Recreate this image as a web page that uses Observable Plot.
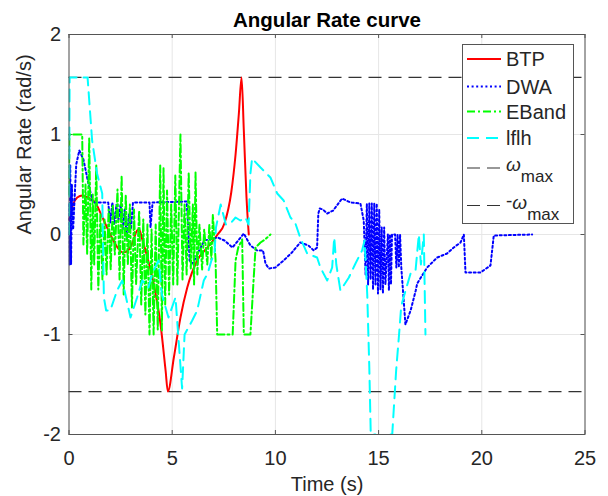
<!DOCTYPE html>
<html>
<head>
<meta charset="utf-8">
<script src="https://cdn.jsdelivr.net/npm/d3@7"></script>
<script src="https://cdn.jsdelivr.net/npm/@observablehq/plot@0.6"></script>
<style>
  html, body { margin: 0; padding: 0; background: #fff; }
  #chart { width: 608px; height: 496px; }
</style>
</head>
<body>
<div id="chart"></div>
<script>
// ---------- data ----------
const titleText = "Angular Rate curve";
const xLabel = "Time (s)";
const yLabel = "Angular Rate (rad/s)";
const xTicks = [0, 5, 10, 15, 20, 25];
const yTicks = [-2, -1, 0, 1, 2];
const omegaMax = 1.5708;
const limits = [omegaMax, -omegaMax];

const btp = [[0,0.15],[0.2,0.3],[0.4,0.37],[0.65,0.39],[0.9,0.37],[1.3,0.31],[1.6,0.18],[2.0,0.0],[2.35,-0.13],[2.6,-0.18],[2.8,-0.17],[3.06,-0.09],[3.3,0.04],[3.4,0.05],[3.55,-0.05],[3.8,-0.23],[4.1,-0.49],[4.43,-0.89],[4.68,-1.36],[4.79,-1.5708],[5.08,-1.23],[5.4,-0.83],[5.73,-0.53],[6.21,-0.26],[6.7,-0.13],[7.2,0.0],[7.53,0.11],[7.86,0.42],[8.07,0.8],[8.23,1.21],[8.36,1.5708],[8.47,1.04],[8.6,0.37],[8.71,0.0]];

const dwa = [[0,0.3],[0.03,-0.3],[0.06,0.7],[0.1,-0.3],[0.14,0.5],[0.2,0.05],[0.35,0.7],[0.5,0.84],[0.7,0.75],[0.9,0.55],[1.15,0.32],[1.9,0.32],[2.0,0.12],[2.1,0.32],[2.2,0.1],[2.3,0.3],[2.4,0.15],[2.5,0.3],[2.6,0.05],[2.7,0.25],[2.8,-0.05],[2.9,0.2],[3.0,0.05],[3.1,0.32],[3.9,0.32],[3.95,0.07],[4.05,0.32],[5.7,0.33],[5.78,0.05],[5.84,-0.26],[6.0,-0.29],[6.23,-0.19],[6.56,-0.06],[7.2,-0.03],[7.53,-0.06],[7.92,-0.13],[8.2,-0.06],[8.47,0.01],[8.79,-0.11],[9.12,-0.16],[9.4,-0.16],[9.52,-0.29],[9.68,-0.34],[10.0,-0.33],[10.4,-0.26],[10.8,-0.18],[11.2,-0.08],[11.6,-0.11],[11.86,-0.16],[12.02,-0.13],[12.08,0.21],[12.15,0.26],[12.3,0.25],[12.51,0.21],[12.8,0.24],[13.23,0.36],[13.64,0.32],[14.12,0.31],[14.28,0.14],[14.37,-0.4],[14.43,0.31],[14.49,-0.5],[14.55,0.31],[14.61,-0.45],[14.67,0.31],[14.73,-0.55],[14.79,0.31],[14.85,-0.5],[14.91,0.31],[14.97,-0.59],[15.03,0.25],[15.09,-0.55],[15.15,0.07],[15.21,-0.59],[15.27,0.07],[15.33,-0.5],[15.45,0.0],[15.5,-0.56],[15.55,0.0],[15.6,-0.5],[15.65,0.0],[15.8,0.0],[15.86,-0.33],[15.92,0.0],[15.98,-0.33],[16.04,0.0],[16.1,-0.33],[16.16,-0.5],[16.3,-0.9],[16.55,-0.76],[16.8,-0.56],[16.87,-0.49],[17.35,-0.33],[17.84,-0.23],[18.32,-0.19],[18.64,-0.13],[18.97,-0.08],[19.13,0.0],[19.21,-0.38],[19.94,-0.38],[20.42,-0.31],[20.58,-0.01],[22.44,0.0]];

const eband = [[0,0.4],[0.02,1.0],[0.64,1.0],[0.7,-0.1],[0.8,0.5],[0.88,-0.2],[0.98,0.97],[1.08,-0.55],[1.15,0.4],[1.22,-0.3],[1.32,0.7],[1.42,-0.55],[1.52,0.2],[1.62,-0.45],[1.72,0.15],[1.82,-0.4],[1.92,0.25],[2.02,-0.35],[2.12,0.3],[2.22,-0.2],[2.35,0.45],[2.45,-0.45],[2.55,0.59],[2.65,-0.6],[2.75,0.4],[2.85,-0.3],[2.95,0.3],[3.05,-0.73],[3.15,0.25],[3.25,-0.5],[3.4,0.24],[3.5,-0.7],[3.6,0.15],[3.7,-0.8],[3.8,0.1],[3.9,-1.0],[4.0,0.05],[4.1,-1.0],[4.2,0.1],[4.3,-0.95],[4.42,0.69],[4.5,-0.96],[4.58,0.67],[4.66,-0.7],[4.75,0.44],[4.85,-0.6],[4.95,0.3],[5.05,-0.5],[5.15,0.59],[5.25,-0.5],[5.4,1.0],[5.5,-0.45],[5.6,0.3],[5.7,-0.4],[5.8,0.62],[5.9,-0.35],[6.0,0.3],[6.06,-0.5],[6.13,0.62],[6.22,-0.4],[6.32,0.1],[6.45,-0.35],[6.55,0.05],[6.7,-0.3],[6.8,0.1],[6.9,-0.25],[6.97,0.2],[7.1,-0.25],[7.18,-1.0],[7.93,-1.0],[8.07,-0.26],[8.2,-0.13],[8.39,-0.05],[8.47,-1.0],[8.79,-1.0],[8.95,-0.43],[9.04,-0.13],[9.28,-0.08],[9.5,-0.05],[9.76,0.0]];

const lflh = [[0,0.0],[0.03,1.5708],[0.9,1.5708],[1.12,0.94],[1.36,0.61],[1.61,0.41],[1.69,-0.63],[1.8,-0.76],[2.0,-0.76],[2.33,-0.56],[2.58,-0.46],[2.98,-0.83],[3.3,-0.63],[3.55,-0.46],[3.85,-0.53],[4.03,-0.39],[4.34,-0.26],[4.5,-0.6],[4.82,-0.83],[5.16,-0.63],[5.3,-1.03],[5.48,-1.54],[5.6,-1.0],[5.97,-0.86],[6.21,-0.76],[6.53,-0.46],[6.72,-0.39],[6.9,-0.26],[7.05,-0.19],[7.12,0.07],[7.35,0.3],[7.6,0.1],[7.82,0.11],[8.07,0.17],[8.3,0.14],[8.55,0.17],[8.7,0.1],[8.79,0.61],[8.87,0.76],[9.28,0.67],[9.76,0.57],[10.09,0.41],[10.4,0.34],[10.73,0.17],[10.97,0.11],[11.2,-0.03],[11.54,-0.19],[12.02,-0.23],[12.18,-0.33],[12.51,-0.46],[12.75,-0.33],[12.85,-0.03],[12.95,-0.3],[13.15,-0.56],[13.56,-0.43],[13.88,-0.29],[14.2,-0.16],[14.32,-0.06],[14.45,-0.6],[14.55,-1.33],[14.62,-2.0],[14.85,-2.0],[14.95,-2.6],[15.35,-2.6],[15.42,-2.0],[15.66,-2.0],[15.85,-1.36],[15.98,-1.03],[16.08,-0.76],[16.14,-0.68],[16.55,-0.39],[16.79,-0.36],[16.95,0.0],[17.05,-0.3],[17.19,0.0],[17.27,-1.0]];

const seriesNames = ["BTP", "DWA", "EBand", "lflh"];
const seriesColors = ["#ff0000", "#0000ff", "#00ff00", "#00ffff"];
const seriesDash = [null, "2,2.6", "8,3,2,3", "12,7"];
const limitColor = "#333333";

// ---------- chart ----------
const font = "'Liberation Sans', Arial, Helvetica, sans-serif";
const textColor = "#262626";
const toRows = (arr) => arr.map(([t, v]) => ({t, v}));

const W = 608, H = 496;
const mL = 68.5, mR = 23.5, mT = 34, mB = 62;
const tickLenX = 4 * 4 / (H - mT - mB);   // 4px in y units
const tickLenY = 4 * 25 / (W - mL - mR);  // 4px in x units

const chart = Plot.plot({
  width: W, height: H,
  marginLeft: mL, marginRight: mR, marginTop: mT, marginBottom: mB,
  style: {fontFamily: font, fontSize: "20px", color: textColor, background: "#fff"},
  x: {domain: [0, 25]},
  y: {domain: [-2, 2]},
  marks: [
    Plot.ruleX(xTicks, {stroke: "#e6e6e6", strokeWidth: 1}),
    Plot.ruleY(yTicks, {stroke: "#e6e6e6", strokeWidth: 1}),
    // inner ticks on all four sides
    Plot.ruleX(xTicks, {y1: -2, y2: -2 + tickLenX, stroke: "#555"}),
    Plot.ruleX(xTicks, {y1: 2, y2: 2 - tickLenX, stroke: "#555"}),
    Plot.ruleY(yTicks, {x1: 0, x2: tickLenY, stroke: "#555"}),
    Plot.ruleY(yTicks, {x1: 25, x2: 25 - tickLenY, stroke: "#555"}),
    Plot.ruleY(limits, {stroke: limitColor, strokeWidth: 1.2, strokeDasharray: "13,7"}),
    Plot.line(toRows(btp), {x: "t", y: "v", stroke: seriesColors[0], strokeWidth: 2, curve: "monotone-x", clip: true}),
    Plot.line(toRows(dwa), {x: "t", y: "v", stroke: seriesColors[1], strokeWidth: 2, strokeDasharray: seriesDash[1], clip: true}),
    Plot.line(toRows(eband), {x: "t", y: "v", stroke: seriesColors[2], strokeWidth: 2, strokeDasharray: seriesDash[2], clip: true}),
    Plot.line(toRows(lflh), {x: "t", y: "v", stroke: seriesColors[3], strokeWidth: 2, strokeDasharray: seriesDash[3], clip: true}),
    Plot.frame({stroke: "#555", strokeWidth: 1}),
    Plot.axisX({ticks: xTicks, tickSize: 0, tickPadding: 16, tickFormat: d => String(d), label: null, fontSize: 20, fill: textColor}),
    Plot.axisY({ticks: yTicks, tickSize: 0, tickPadding: 8, tickFormat: d => String(d), label: null, fontSize: 20, fill: textColor}),
    Plot.text([xLabel], {text: d => d, frameAnchor: "bottom", lineAnchor: "middle", dy: 50, fontSize: 20, fill: textColor}),
    Plot.text([yLabel], {text: d => d, frameAnchor: "left", dx: -44, rotate: -90, fontSize: 20, fill: textColor}),
    Plot.text([titleText], {text: d => d, frameAnchor: "top", lineAnchor: "middle", dy: -14, fontSize: 20.5, fontWeight: "bold", fill: "#000"})
  ]
});
document.getElementById("chart").appendChild(chart);

// ---------- legend ----------
const svg = d3.select(chart);
const lg = svg.append("g").attr("font-family", font).attr("fill", textColor).attr("text-anchor", "start");
lg.append("rect").attr("x", 462.5).attr("y", 44.5).attr("width", 111).attr("height", 179)
  .attr("fill", "#fff").attr("stroke", "#555").attr("stroke-width", 1);
const rowY = [59, 86.5, 111.5, 138, 168, 205.5];
seriesNames.forEach((name, i) => {
  lg.append("line").attr("x1", 467).attr("x2", 501).attr("y1", rowY[i]).attr("y2", rowY[i])
    .attr("stroke", seriesColors[i]).attr("stroke-width", 2)
    .attr("stroke-dasharray", seriesDash[i]);
  lg.append("text").attr("x", 506).attr("y", rowY[i] + 7).attr("font-size", 20).text(name);
});
[0, 1].forEach(k => {
  const y = rowY[4 + k];
  lg.append("line").attr("x1", 467).attr("x2", 501).attr("y1", y).attr("y2", y)
    .attr("stroke", limitColor).attr("stroke-width", 1.2).attr("stroke-dasharray", "13,7");
  const t = lg.append("text").attr("x", 506).attr("y", y + 3).attr("font-size", 19);
  if (k === 1) t.append("tspan").attr("dy", -2).text("-");
  t.append("tspan").attr("font-style", "italic").attr("dy", k === 1 ? 2 : 0).text("ω");
  t.append("tspan").attr("dy", 11).attr("font-size", 17).text("max");
});
</script>
</body>
</html>
